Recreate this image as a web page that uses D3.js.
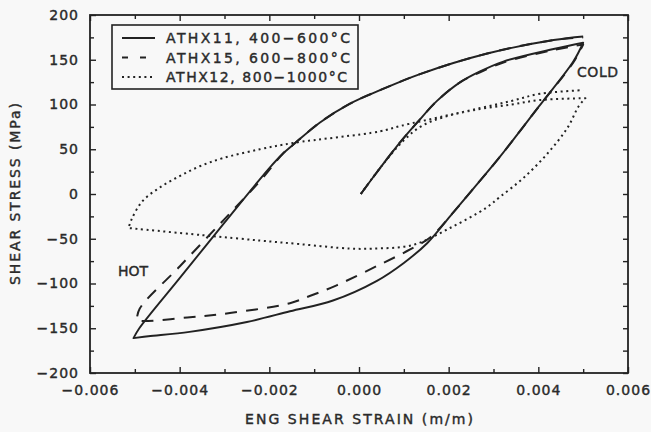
<!DOCTYPE html>
<html><head><meta charset="utf-8">
<script src="https://cdn.jsdelivr.net/npm/d3@7"></script>
<style>
html,body{margin:0;padding:0;background:#f8f8f8;}
svg{display:block;}
text{font-family:"DejaVu Sans",sans-serif;fill:#2a2a2a;stroke:#2a2a2a;stroke-width:0.4px;}
</style></head>
<body>
<svg id="chart" width="651" height="432"></svg>
<script>
// ---- data (strain m/m, stress MPa) ----
const xTicks = [-0.006,-0.004,-0.002,0.000,0.002,0.004,0.006];
const yTicks = [-200,-150,-100,-50,0,50,100,150,200];
const xMinor = [-0.005,-0.003,-0.001,0.001,0.003,0.005];
const yMinor = [-175,-125,-75,-25,25,75,125,175];
const seriesNames = ["ATHX11, 400\u2212600\u00b0C","ATHX15, 600\u2212800\u00b0C","ATHX12, 800\u22121000\u00b0C"];

// ATHX11 (solid)
const solidLoad = [[0.00004,0],[0.0005,31],[0.00092,58],[0.0013,80],[0.00174,104],[0.00226,125],[0.0027,137],[0.00322,148],[0.00434,162],[0.005,169]];
const solidUnload = [[0.005,169],[0.00478,148],[0.004,97],[0.00315,42],[0.0025,3],[0.00208,-22],[0.00152,-55],[0.001,-77],[0.0004,-97],[-0.00058,-119],[-0.00154,-131],[-0.0025,-143],[-0.00378,-154],[-0.0047,-159],[-0.00503,-161]];
const solidReload = [[-0.00503,-161],[-0.0049,-150],[-0.004,-94],[-0.003,-32],[-0.002,29],[-0.0017,45],[-0.00147,55],[-0.00087,80],[-0.0002,101],[0.00047,116],[0.00136,134],[0.00286,157],[0.00434,172],[0.005,176]];

// ATHX15 (dashed)
const dashLoad = [[0.00004,0],[0.0005,31],[0.00092,58],[0.0013,80],[0.00174,104],[0.00226,125],[0.0027,136],[0.00322,147],[0.00434,161],[0.005,167]];
const dashUnload = [[0.005,167],[0.00478,147],[0.004,97],[0.00315,42],[0.0025,3],[0.00208,-22],[0.0016,-48],[0.00114,-62],[0.00054,-77],[-0.0005,-102],[-0.0011,-114],[-0.00154,-122],[-0.00288,-133],[-0.00383,-138],[-0.00483,-142],[-0.00496,-141]];
const dashReload = [[-0.00496,-141],[-0.00489,-128],[-0.004,-81],[-0.003,-28],[-0.0022,15],[-0.0017,45],[-0.00147,55],[-0.00087,80],[-0.0002,101],[0.00047,116],[0.00136,134],[0.00286,157],[0.00434,172],[0.005,175]];

// ATHX12 (dotted)
const dotLoad = [[0.00004,0],[0.0005,31],[0.001,60],[0.0014,76],[0.0019,86],[0.0027,95],[0.0034,100],[0.00404,105],[0.00505,107]];
const dotUnload = [[0.00505,107],[0.0049,98],[0.00465,74],[0.0042,45],[0.00367,18],[0.00315,-3],[0.00282,-16],[0.00203,-38],[0.0012,-57],[0.0003,-61],[-0.0002,-61],[-0.00132,-56],[-0.00221,-52],[-0.00349,-46],[-0.00514,-38]];
const dotReload = [[-0.00514,-38],[-0.00507,-28],[-0.00483,-8],[-0.00445,7],[-0.004,20],[-0.00355,31],[-0.00304,40],[-0.00221,50],[-0.00147,57],[0.00047,70],[0.00092,76],[0.0019,87],[0.0027,96],[0.0034,104],[0.00404,112],[0.005,116]];

// ---- layout ----
const svg = d3.select("#chart");
const L = 90, R = 628, T = 15, B = 373;
const x = d3.scaleLinear().domain([-0.006,0.006]).range([L,R]);
const y = d3.scaleLinear().domain([-200,200]).range([B,T]);
const ink = "#222";

// axes
function styleAxis(g){ g.select(".domain").remove(); g.selectAll("line").attr("stroke",ink).attr("stroke-width",1.4); }
const fx = d3.format(".3f"), fy = d3.format("d");
svg.append("g").attr("transform",`translate(0,${B})`)
  .call(d3.axisBottom(x).tickValues(xTicks).tickSize(-6).tickPadding(12).tickFormat(fx))
  .call(styleAxis)
  .selectAll("text").attr("font-size",14).attr("letter-spacing","1px").attr("fill","#2a2a2a").attr("font-family","DejaVu Sans");
svg.append("g").attr("transform",`translate(0,${B})`)
  .call(d3.axisBottom(x).tickValues(xMinor).tickSize(-4).tickFormat("")).call(styleAxis);
svg.append("g").attr("transform",`translate(0,${T})`)
  .call(d3.axisTop(x).tickValues(xTicks).tickSize(-6).tickFormat("")).call(styleAxis);
svg.append("g").attr("transform",`translate(0,${T})`)
  .call(d3.axisTop(x).tickValues(xMinor).tickSize(-4).tickFormat("")).call(styleAxis);
svg.append("g").attr("transform",`translate(${L},0)`)
  .call(d3.axisLeft(y).tickValues(yTicks).tickSize(-6).tickPadding(11).tickFormat(fy))
  .call(styleAxis)
  .selectAll("text").attr("font-size",14).attr("letter-spacing","1px").attr("fill","#2a2a2a").attr("font-family","DejaVu Sans");
svg.append("g").attr("transform",`translate(${L},0)`)
  .call(d3.axisLeft(y).tickValues(yMinor).tickSize(-4).tickFormat("")).call(styleAxis);
svg.append("g").attr("transform",`translate(${R},0)`)
  .call(d3.axisRight(y).tickValues(yTicks).tickSize(-5).tickFormat("")).call(styleAxis);
svg.append("g").attr("transform",`translate(${R},0)`)
  .call(d3.axisRight(y).tickValues(yMinor).tickSize(-5).tickFormat("")).call(styleAxis);

// frame
svg.append("rect").attr("x",L).attr("y",T).attr("width",R-L).attr("height",B-T)
  .attr("fill","none").attr("stroke",ink).attr("stroke-width",1.8);

// curves
const line = d3.line().x(d=>x(d[0])).y(d=>y(d[1])).curve(d3.curveCatmullRom.alpha(0.5));
function joinBranches(branches){
  return branches.map((b,i)=>{ const s = line(b); return i ? s.replace(/^M/,"L") : s; }).join("");
}
const series = [
  {branches:[dotLoad,dotUnload,dotReload], dash:"2,3.6", w:2},
  {branches:[dashLoad,dashUnload,dashReload], dash:"12,9", w:2},
  {branches:[solidLoad,solidUnload,solidReload], dash:null, w:1.9}
];
series.forEach(s=>{
  svg.append("path").attr("d",joinBranches(s.branches)).attr("fill","none")
    .attr("stroke",ink).attr("stroke-width",s.w).attr("stroke-linejoin","round")
    .attr("stroke-dasharray",s.dash);
});

// legend
const lg = svg.append("g");
lg.append("rect").attr("x",112).attr("y",25).attr("width",246).attr("height",64)
  .attr("fill","#f8f8f8").attr("stroke",ink).attr("stroke-width",1.6);
const legDash = [null,"6,12","2,3.6"];
const legLen = [184,184,181];
seriesNames.forEach((n,i)=>{
  const yy = 38 + i*19.5;
  lg.append("line").attr("x1",122).attr("x2",155).attr("y1",yy).attr("y2",yy)
    .attr("stroke",ink).attr("stroke-width",2).attr("stroke-dasharray",legDash[i]);
  lg.append("text").attr("x",166).attr("y",yy+5).attr("font-size",14)
    .attr("textLength",legLen[i]).attr("lengthAdjust","spacing").text(n);
});

// annotations
svg.append("text").attr("x",577).attr("y",77).attr("font-size",14).attr("textLength",41).attr("lengthAdjust","spacing").text("COLD");
svg.append("text").attr("x",118).attr("y",276).attr("font-size",14).attr("textLength",30).attr("lengthAdjust","spacing").text("HOT");

// axis titles
svg.append("text").attr("x",359).attr("y",424).attr("text-anchor","middle").attr("font-size",14)
  .attr("textLength",228).attr("lengthAdjust","spacing").text("ENG SHEAR STRAIN (m/m)");
svg.append("text").attr("transform","translate(20,194) rotate(-90)").attr("text-anchor","middle").attr("font-size",14)
  .attr("textLength",182).attr("lengthAdjust","spacing").text("SHEAR STRESS (MPa)");
</script>
</body></html>
